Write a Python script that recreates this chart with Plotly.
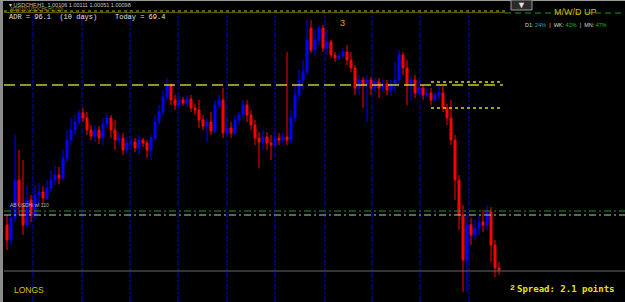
import plotly.graph_objects as go

# ---- data (price in chart points) ----
opens = [75, 60, 82, 120, 95, 75, 100, 85, 105, 108, 102, 112, 120, 125, 122, 142, 160, 170, 178, 187,
         182, 170, 164, 170, 162, 176, 182, 170, 160, 162, 150, 157, 158, 152, 160, 157, 150, 162, 178, 188,
         203, 215, 200, 195, 200, 197, 201, 192, 190, 180, 174, 178, 169, 195, 200, 167, 172, 167, 180, 185,
         195, 185, 175, 162, 158, 163, 157, 155, 162, 160, 163, 160, 182, 205, 220, 228, 272, 250, 260, 272,
         252, 258, 245, 242, 244, 248, 240, 232, 212, 220, 215, 220, 212, 218, 212, 216, 210, 215, 220, 245,
         232, 215, 220, 207, 212, 205, 207, 200, 205, 207, 192, 182, 160, 120, 85, 40, 75, 65, 72, 78,
         75, 88, 55, 32]
highs = [85, 95, 165, 150, 140, 115, 105, 115, 117, 114, 120, 130, 135, 133, 150, 170, 182, 185, 190, 192,
         188, 175, 175, 174, 182, 187, 185, 180, 168, 167, 163, 165, 162, 165, 162, 160, 165, 185, 195, 210,
         222, 217, 205, 205, 203, 205, 205, 196, 200, 185, 182, 188, 200, 205, 212, 182, 178, 185, 188, 200,
         200, 190, 180, 168, 170, 168, 165, 168, 167, 168, 248, 190, 215, 230, 240, 280, 280, 270, 275, 275,
         270, 260, 248, 247, 252, 255, 248, 235, 225, 223, 225, 223, 222, 222, 220, 220, 220, 238, 250, 248,
         240, 225, 225, 222, 215, 212, 212, 208, 215, 214, 196, 200, 165, 125, 95, 85, 82, 80, 85, 90,
         95, 93, 60, 38]
lows = [50, 55, 78, 85, 65, 72, 78, 80, 95, 95, 100, 108, 115, 116, 120, 138, 155, 165, 175, 178,
        165, 160, 158, 156, 155, 172, 162, 150, 155, 145, 147, 150, 148, 145, 153, 142, 140, 160, 175, 185,
        200, 195, 190, 192, 194, 193, 188, 185, 172, 170, 158, 165, 167, 192, 162, 164, 162, 165, 175, 182,
        178, 170, 155, 132, 150, 150, 140, 152, 155, 157, 155, 157, 178, 200, 210, 225, 247, 245, 255, 248,
        245, 242, 238, 240, 242, 235, 228, 205, 205, 192, 178, 205, 208, 202, 208, 205, 204, 208, 215, 225,
        195, 200, 202, 205, 200, 202, 195, 198, 200, 188, 175, 155, 100, 70, 8, 8, 55, 60, 65, 68,
        70, 38, 23, 25]
closes = [60, 82, 120, 95, 75, 100, 85, 105, 108, 102, 112, 120, 125, 122, 142, 160, 170, 178, 187, 182,
          170, 164, 170, 162, 176, 182, 170, 160, 162, 150, 157, 158, 152, 160, 157, 150, 162, 178, 188, 203,
          215, 200, 195, 200, 197, 201, 192, 190, 180, 174, 178, 169, 195, 200, 167, 172, 167, 180, 185, 195,
          185, 175, 162, 158, 163, 157, 155, 162, 160, 163, 160, 182, 205, 220, 228, 260, 250, 260, 272, 252,
          258, 245, 242, 244, 248, 240, 232, 212, 220, 215, 220, 212, 218, 212, 216, 210, 215, 220, 245, 232,
          215, 220, 207, 212, 205, 207, 200, 205, 207, 192, 182, 160, 120, 85, 40, 75, 65, 72, 78, 75,
          88, 55, 32, 30]
bars = list(range(len(closes)))

day_separators = [6.5, 18.75, 30.75, 42.75, 55, 67, 79.5, 91.25, 103.25, 115.5]

level_top = 289        # olive dotted line under header
level_adr_hi = 215     # yellow long-dash line
zone_hi = 218          # short yellow dotted
zone_lo = 192          # short yellow dotted
level_green = 89       # green dash-dot
level_gray_dd = 85     # gray dash-dot
level_gray = 29        # gray solid

W, H = 625, 302


def px(x):
    return x / W


def py(y):
    return 1 - y / H


fig = go.Figure()
fig.add_trace(go.Candlestick(
    x=bars, open=opens, high=highs, low=lows, close=closes,
    increasing=dict(line=dict(color="#0000ff", width=1), fillcolor="#0000ff"),
    decreasing=dict(line=dict(color="#ff0000", width=1), fillcolor="#ff0000"),
    whiskerwidth=0, showlegend=False, hoverinfo="skip",
))

shapes = []
# left frame band and top border
shapes.append(dict(type="rect", xref="paper", yref="paper", x0=0, x1=px(3), y0=0, y1=1,
                   fillcolor="#8c8c8c", line=dict(width=0), layer="above"))
shapes.append(dict(type="line", xref="paper", yref="paper", x0=0, x1=1, y0=py(0.5), y1=py(0.5),
                   line=dict(color="#9a9a9a", width=1)))
# day separators
for s in day_separators:
    shapes.append(dict(type="line", xref="x", yref="paper", x0=s, x1=s, y0=0, y1=py(10),
                       line=dict(color="#0000d8", width=1, dash="6px,2px,2px,2px"), layer="below"))
# header lines
shapes.append(dict(type="line", xref="paper", yref="y", x0=px(4), x1=px(505), y0=level_top, y1=level_top,
                   line=dict(color="#b8b800", width=1, dash="dot")))
shapes.append(dict(type="line", xref="paper", yref="y", x0=px(4), x1=px(505), y0=level_top - 1.6,
                   y1=level_top - 1.6, line=dict(color="#6e6000", width=1)))
shapes.append(dict(type="line", xref="paper", yref="y", x0=px(505), x1=1, y0=level_top - 2, y1=level_top - 2,
                   line=dict(color="#1a9a1a", width=1, dash="6px,4px")))
# yellow long-dash level
shapes.append(dict(type="line", xref="paper", yref="y", x0=px(4), x1=px(503), y0=level_adr_hi, y1=level_adr_hi,
                   line=dict(color="#c8c830", width=1.3, dash="11px,5px")))
# short dotted zone
for lv in (zone_hi, zone_lo):
    shapes.append(dict(type="line", xref="paper", yref="y", x0=px(431), x1=px(502), y0=lv, y1=lv,
                       line=dict(color="#d8d800", width=1.3, dash="dot")))
# dash-dot levels
shapes.append(dict(type="line", xref="paper", yref="y", x0=px(4), x1=1, y0=level_green, y1=level_green,
                   line=dict(color="#1a9a1a", width=1, dash="7px,3px,2px,3px")))
shapes.append(dict(type="line", xref="paper", yref="y", x0=px(4), x1=1, y0=level_gray_dd, y1=level_gray_dd,
                   line=dict(color="#c0c0c0", width=1, dash="7px,3px,2px,3px")))
shapes.append(dict(type="line", xref="paper", yref="y", x0=px(4), x1=1, y0=level_gray, y1=level_gray,
                   line=dict(color="#6a6a6a", width=1)))
# dropdown button top right
shapes.append(dict(type="rect", xref="paper", yref="paper", x0=px(511), x1=px(532), y0=py(10), y1=py(0),
                   fillcolor="#2a2a2a", line=dict(color="#9a9a9a", width=1)))

ann = []


def text(x, y, s, color, size, family="Liberation Sans", anchor="left", bold=False):
    if bold:
        s = "<b>" + s + "</b>"
    ann.append(dict(x=px(x), y=py(y), xref="paper", yref="paper", text=s, showarrow=False,
                    xanchor=anchor, yanchor="middle", font=dict(color=color, size=size, family=family)))


text(7, 5, "▾ USDCHF,H1  1.00106 1.00111 1.00051 1.00098", "#c8c8c8", 5.5)
text(8, 9.5, "ADR(10) USDCHF,H1 (10)", "#b0a000", 4.5)
text(7, 17, "ADR = 96.1  (10 days)", "#e0e0e0", 7, family="Liberation Mono")
text(113, 17, "Today = 69.4", "#e0e0e0", 7, family="Liberation Mono")
text(521, 5, "▼", "#e0e0e0", 9, anchor="center")
text(575, 12, "M/W/D UP", "#d8b400", 9, anchor="center")
text(566, 24.5,
     'D1: <span style="color:#00b8c8">24%</span>  |  WK: <span style="color:#10c010">42%</span>'
     '  |  MN: <span style="color:#10c010">47%</span>', "#d8d8d8", 5.5, anchor="center")
text(342, 23, "3", "#e0a800", 9, anchor="center")
text(8, 205, "AB USDHi wl 110", "#b8b8b8", 5)
text(12, 290, "LONGS", "#d8c400", 8.5)
text(508, 287, "2", "#e8e800", 8, family="Liberation Mono", bold=True)
text(515, 289, "Spread: 2.1 points", "#e8e800", 9, family="DejaVu Sans Mono", bold=True)

fig.update_layout(
    width=W, height=H, margin=dict(l=0, r=0, t=0, b=0),
    paper_bgcolor="#000000", plot_bgcolor="#000000",
    xaxis=dict(range=[-7 / 4, (W - 7) / 4], visible=False, rangeslider=dict(visible=False), fixedrange=True),
    yaxis=dict(range=[-2, 300], visible=False, fixedrange=True),
    shapes=shapes, annotations=ann, showlegend=False,
)

fig.write_html("out.html")
